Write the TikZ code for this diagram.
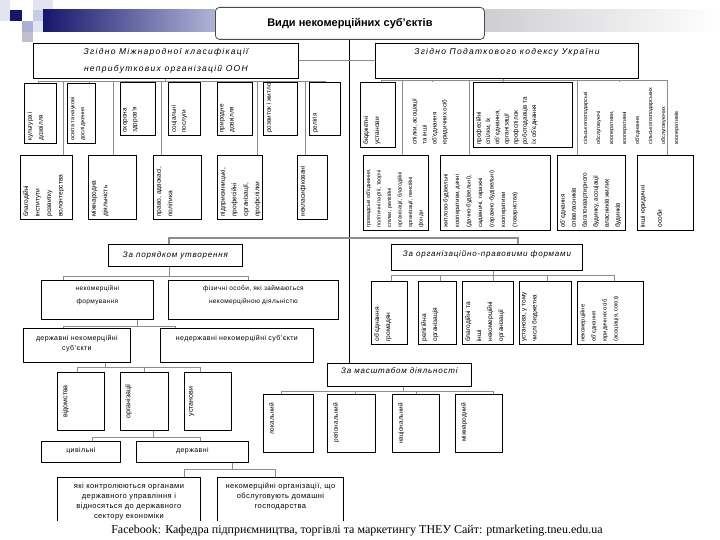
\documentclass[tikz,border=0pt]{standalone}
\usepackage{fontspec}
\setmainfont{Liberation Sans}
\newfontfamily\ftrfont{Liberation Serif}
\newfontfamily\hdrfont[LetterSpace=15]{Liberation Sans}
\newfontfamily\subfont[LetterSpace=10]{Liberation Sans}
\newfontfamily\smfont[LetterSpace=6]{Liberation Sans}
\newfontfamily\vfont{Liberation Sans}
\usetikzlibrary{calc}
\definecolor{navy}{RGB}{22,22,108}
\definecolor{navyl}{RGB}{176,180,214}
\definecolor{pale1}{RGB}{226,228,240}
\definecolor{pale2}{RGB}{200,204,228}
\definecolor{pale3}{RGB}{170,178,212}
\definecolor{pale4}{RGB}{190,192,208}
\definecolor{greybar}{RGB}{206,206,210}
\definecolor{conncol}{RGB}{140,140,140}
\tikzset{
 boxst/.style={draw=black,line width=0.8pt,fill=white,inner sep=0pt},
 nobox/.style={draw=none,fill=none},
 conn/.style={draw=conncol,line width=0.9pt},
 thickconn/.style={draw=conncol,line width=2.2pt},
 trunk/.style={draw=black,line width=1pt},
 vt/.style={rotate=90,inner sep=0pt},
}
% box: [style]{name}{x1}{y1}{x2}{y2}
\newcommand{\bx}[6][]{\node[boxst,#1,minimum width={(#5-#3)*1pt},minimum height={(#6-#4)*1pt},anchor=north west] (#2) at (#3,#4) {};}
% rotated text, bottom aligned: [size]{name}{leading}{text}
\newcommand{\vtb}[4][6.4]{\node[vt,anchor=north west,align=left,font={\vfont\fontsize{#1pt}{#3pt}\selectfont}] at ([xshift=3pt,yshift=3pt]#2.south west) {#4};}
% rotated text, centred
\newcommand{\vtc}[4][6.4]{\node[vt,anchor=north,align=center,font={\vfont\fontsize{#1pt}{#3pt}\selectfont}] at ([xshift=5pt]#2.west) {#4};}
% rotated text, top aligned
\newcommand{\vtt}[4][6.4]{\node[vt,anchor=north east,align=right,font={\vfont\fontsize{#1pt}{#3pt}\selectfont}] at ([xshift=6pt,yshift=-9pt]#2.north west) {#4};}
% horizontal text at top of box: [offset]{name}{font}{text}
\newcommand{\htx}[4][3]{\node[anchor=north,inner sep=0pt,align=center,font=#3] at ([yshift=-#1pt]#2.north) {#4};}
% connectors
\newcommand{\busline}[3]{\coordinate (ba) at (#1,#3); \coordinate (bb) at (#2,#3); \draw[conn] (ba) -- (bb);}
\newcommand{\ctap}[3]{\coordinate (tp) at (#2,#3); \draw[conn] (tp) -- (tp |- #1.north);}
\newcommand{\ptap}[3]{\coordinate (tp) at (#2,#3); \draw[conn] (#1.south -| tp) -- (tp);}

\begin{document}
\begin{tikzpicture}[x=1pt,y=-1pt]
\useasboundingbox (0,0) rectangle (720,540);
\fill[white] (0,0) rectangle (720,540);
% decoration
\fill[pale1] (0,0) rectangle (10,10);
\fill[pale1] (0,10) rectangle (10,21);
\fill[navy] (10,10) rectangle (22,21);
\fill[pale1] (33,0) rectangle (53,10);
\fill[pale2] (33,10) rectangle (43,21);
\fill[pale3] (22,21) rectangle (33,32);
\fill[pale1] (33,21) rectangle (43,32);
\fill[pale4] (22,32) rectangle (33,42);
\shade[left color=navy,right color=navyl] (43,10) rectangle (215,32);
\shade[left color=greybar,right color=white] (484,10) rectangle (720,32);

% title
\node[draw=black!70,rounded corners=4pt,fill=white,line width=0.8pt,minimum width=269pt,minimum height=32pt,anchor=north west,font=\bfseries\fontsize{11pt}{13pt}\selectfont] (title) at (215,7) {Види некомерційних суб’єктів};

% headers
\bx{lh}{33}{43}{298}{78}
\htx[5]{lh}{\hdrfont\itshape\fontsize{8.5pt}{17pt}\selectfont}{Згідно Міжнародної класифікації\\неприбуткових організацій ООН}
\bx{rh}{375}{43}{638}{78}
\htx[5]{rh}{\hdrfont\itshape\fontsize{8.5pt}{17pt}\selectfont}{Згідно Податкового кодексу України}

% left top row
\bx{l1}{24}{83}{56}{143}\vtb{l1}{11}{культура і\\дозвілля}
\bx{l2}{67}{83}{95}{143}\vtb[5.6]{l2}{10}{освіта та наукові\\дослідження}
\bx{l3}{120}{82}{155}{135}\vtb{l3}{10}{охорона\\здоров’я}
\bx{l4}{168}{82}{200}{135}\vtb{l4}{10}{соціальні\\послуги}
\bx{l5}{217}{82}{252}{135}\vtb{l5}{10}{природне\\довкілля}
\bx{l6}{263}{82}{297}{135}\vtb{l6}{10}{розвиток і житло}
\bx{l7}{309}{82}{340}{135}\vtb{l7}{10}{релігія}
% left bottom row
\bx{lb1}{20}{155}{72}{219}\vtb[6.6]{lb1}{11.5}{благодійні\\інститути\\розвитку\\волонтерства}
\bx{lb2}{88}{155}{136}{219}\vtb[6.6]{lb2}{11.5}{міжнародна\\діяльність}
\bx{lb3}{153}{155}{201}{219}\vtb[6.6]{lb3}{11.5}{право, адвокасі,\\політика}
\bx{lb4}{217}{155}{262}{219}\vtb[6.6]{lb4}{11.5}{підприємницькі,\\професійні\\організації,\\профспілки}
\bx{lb5}{297}{155}{327}{219}\vtb[6.6]{lb5}{11.5}{некласифіковані}

% right top row
\bx{r1}{360}{82}{395}{147}\vtb[6.6]{r1}{11}{бюджетні\\установи}
\bx[nobox]{r2}{409}{82}{463}{147}\vtb[6.2]{r2}{10}{спілки, асоціації\\та інші\\об’єднання\\юридичних осіб}
\bx{r3}{473}{82}{572}{147}\vtb{r3}{9.2}{професійні\\спілки, їх\\об’єднання,\\організації\\профспілок\\роботодавців та\\їх об’єднання}
\bx[nobox]{r4}{580}{82}{692}{147}\vtb[5.4]{r4}{13}{сільськогосподарські\\обслуговуючі\\кооперативи,\\кооперативні\\об’єднання\\сільськогосподарських\\обслуговуючих\\кооперативів}
% right bottom row
\bx{rb1}{363}{155}{428}{230}\vtb[5.5]{rb1}{10.5}{громадські об’єднання,\\політичні партії, творчі\\спілки, релігійні\\організації, благодійні\\організації, пенсійні\\фонди}
\bx{rb2}{440}{155}{550}{230}\vtb[6]{rb2}{11.5}{житлово-будівельні\\кооперативи, дачні\\(дачно-будівельні),\\садівничі, гаражні\\(гаражно-будівельні)\\кооперативи\\(товариства)}
\bx{rb3}{557}{155}{625}{230}\vtb{rb3}{11}{об’єднання\\співвласників\\багатоквартирного\\будинку, асоціації\\власників жилих\\будинків}
\bx{rb4}{637}{155}{693}{230}\vtb[6.6]{rb4}{17}{інші юридичні\\особи}

% by order of formation
\bx{po}{108}{244}{242}{266}
\htx[7]{po}{\subfont\itshape\fontsize{8pt}{10pt}\selectfont}{За порядком утворення}
\bx{nf}{41}{280}{153}{319}
\htx[5]{nf}{\smfont\fontsize{6.5pt}{13pt}\selectfont}{некомерційні\\формування}
\bx{fo}{168}{280}{338}{319}
\htx[5]{fo}{\smfont\fontsize{6.5pt}{13pt}\selectfont}{фізичні особи, які займаються\\некомерційною діяльністю}
\bx{dn}{23}{328}{130}{362}
\htx[7]{dn}{\smfont\fontsize{7pt}{10pt}\selectfont}{державні некомерційні\\суб’єкти}
\bx{nd}{160}{328}{313}{362}
\htx[7]{nd}{\smfont\fontsize{7pt}{10pt}\selectfont}{недержавні некомерційні суб’єкти}
\bx{v1}{57}{372}{104}{430}\vtc[7]{v1}{10}{відомства}
\bx{v2}{120}{372}{168}{430}\vtc[7]{v2}{10}{організації}
\bx{v3}{184}{372}{231}{430}\vtc[7]{v3}{10}{установи}
\bx{cv}{41}{441}{120}{462}
\htx[6]{cv}{\smfont\fontsize{7pt}{10pt}\selectfont}{цивільні}
\bx{dz}{136}{441}{248}{462}
\htx[6]{dz}{\smfont\fontsize{7pt}{10pt}\selectfont}{державні}
\bx{k1}{57}{477}{200}{535}
\htx[6]{k1}{\smfont\fontsize{7.5pt}{10pt}\selectfont}{які контролюються органами\\державного управління і\\відносяться до державного\\сектору економіки}
\bx{k2}{217}{477}{343}{535}
\htx[6]{k2}{\smfont\fontsize{7.5pt}{10pt}\selectfont}{некомерційні організації, що\\обслуговують домашні\\господарства}

% by organisational-legal forms
\bx{op}{391}{244}{582}{270}
\htx[6]{op}{\subfont\itshape\fontsize{8pt}{10pt}\selectfont}{За організаційно-правовими формами}
\bx{o1}{371}{281}{407}{344}\vtb[6.6]{o1}{11}{об’єднання\\громадян}
\bx{o2}{418}{281}{456}{344}\vtb[6.6]{o2}{11}{релігійна\\організація}
\bx{o3}{462}{281}{513}{344}\vtb[6.6]{o3}{11}{благодійні та\\інші\\некомерційні\\організації}
\bx{o4}{519}{281}{571}{344}\vtb[6.4]{o4}{11}{установа, у тому\\числі бюджетна}
\bx{o5}{577}{281}{643}{344}\vtb[5.8]{o5}{11}{некомерційне\\об’єднання\\юридичних осіб\\(асоціація, союз)}

% by scale of activity
\bx{ms}{327}{363}{471}{386}
\htx[4]{ms}{\subfont\itshape\fontsize{8pt}{10pt}\selectfont}{За масштабом діяльності}
\bx{s1}{263}{394}{313}{452}\vtt{s1}{10}{локальний}
\bx{s2}{327}{394}{375}{452}\vtt{s2}{10}{регіональний}
\bx{s3}{392}{394}{439}{452}\vtt{s3}{10}{національний}
\bx{s4}{455}{394}{502}{452}\vtt{s4}{10}{міжнародний}

% ---------- connectors ----------
\draw[trunk] (title.south) -- (title.south |- ms.north);
\draw[conn] (lh.east) -- (rh.west);
% left classification bus
\busline{38}{325}{81}
\ptap{lh}{165}{81}
\foreach \nd/\xx in {l1/38,l2/89,l3/135,l4/181,l5/228,l6/275,l7/325,lb1/63,lb2/113,lb3/161,lb4/257,lb5/305} {\ctap{\nd}{\xx}{81}}
% right tax code bus
\busline{381}{667}{80}
\ptap{rh}{503}{80}
\foreach \nd/\xx in {r1/381,r2/432,r3/503,r4/619,rb1/402,rb2/469,rb3/577,rb4/667} {\ctap{\nd}{\xx}{80}}
% thick middle link
\coordinate (h1) at (169,238); \coordinate (h2) at (518,238);
\draw[thickconn] (po.north -| h1) -- (h1) -- (h2) -- (op.north -| h2);
% order of formation
\busline{63}{248}{276}\ptap{po}{169}{276}
\ctap{nf}{63}{276}\ctap{fo}{248}{276}
\busline{63}{175}{326}\ptap{nf}{137}{326}
\ctap{dn}{63}{326}\ctap{nd}{175}{326}
\busline{77}{200}{367}\ptap{dn}{105}{367}
\ctap{v1}{77}{367}\ctap{v2}{144}{367}\ctap{v3}{200}{367}
\busline{92}{200}{437}\ptap{v2}{153}{437}
\ctap{cv}{92}{437}\ctap{dz}{200}{437}
\busline{184}{275}{469}\ptap{dz}{232}{469}
\ctap{k1}{184}{469}\ctap{k2}{275}{469}
% organisational-legal forms
\busline{391}{614}{275}\ptap{op}{493}{275}
\foreach \nd/\xx in {o1/391,o2/440,o3/493,o4/547,o5/614} {\ctap{\nd}{\xx}{275}}
% scale
\busline{281}{493}{391}\ptap{ms}{403}{391}
\foreach \nd/\xx in {s1/281,s2/355,s3/416,s4/493} {\ctap{\nd}{\xx}{391}}

% footer
\fill[white] (0,521) rectangle (720,540);
\node[font=\ftrfont\fontsize{12pt}{14pt}\selectfont,inner sep=0pt] (ftr) at (357,531) {Facebook: Кафедра підприємництва, торгівлі та маркетингу ТНЕУ Сайт: ptmarketing.tneu.edu.ua};
\end{tikzpicture}
\end{document}
